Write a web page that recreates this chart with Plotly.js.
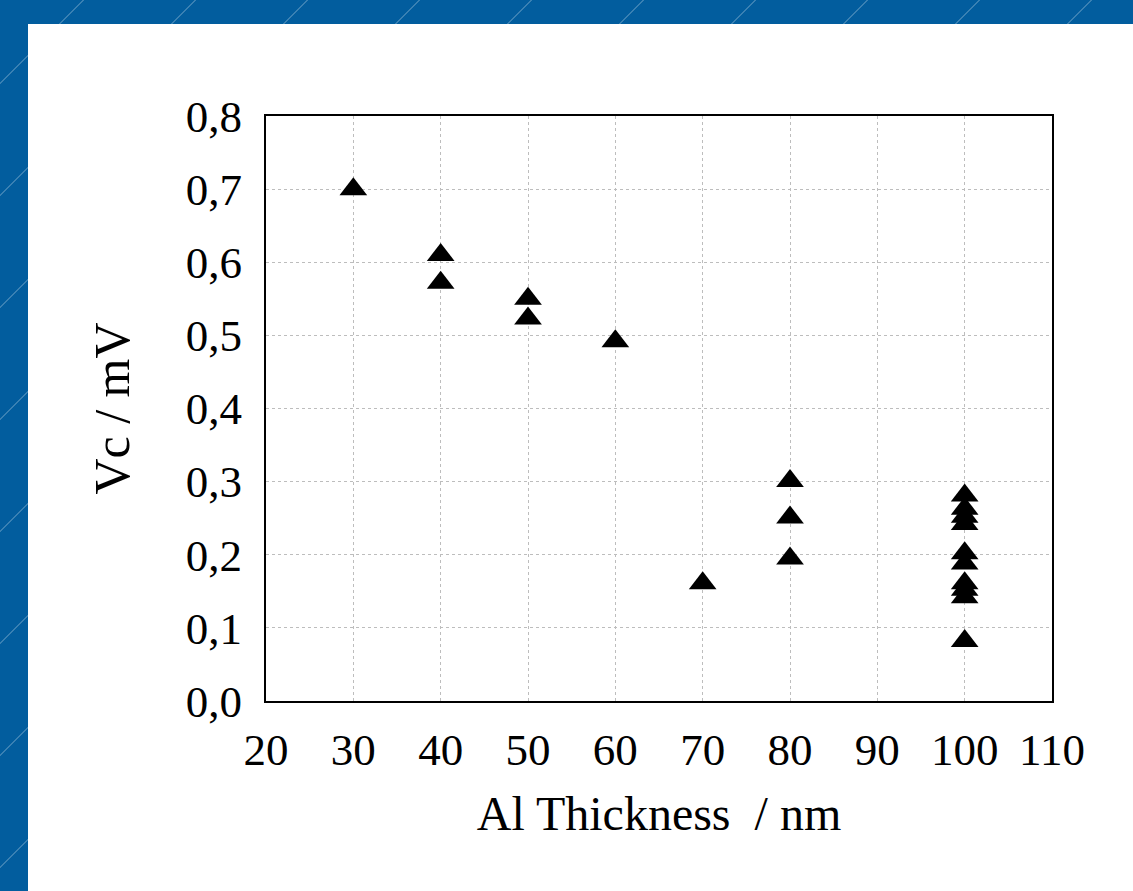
<!DOCTYPE html>
<html>
<head>
<meta charset="utf-8">
<script src="https://cdn.plot.ly/plotly-3.0.1.min.js"></script>
<style>
  html, body { margin: 0; padding: 0; }
  body {
    width: 1133px; height: 891px; overflow: hidden; position: relative;
    background-color: #025d9e;
    background-image: repeating-linear-gradient(135deg,
      rgba(255,255,255,0) 0px, rgba(255,255,255,0) 58.6px,
      rgba(255,255,255,0.22) 58.6px, rgba(255,255,255,0.22) 59.8px,
      rgba(255,255,255,0) 59.8px, rgba(255,255,255,0) 79.2px);
  }
  #chart { position: absolute; left: 28px; top: 24px; width: 1105px; height: 867px; background: #fff; }
</style>
</head>
<body>
<div id="chart"></div>
<script>
const thickness = [30, 40, 40, 50, 50, 60, 70, 80, 80, 80,
                   100, 100, 100, 100, 100, 100, 100, 100, 100, 100];
const vc = [0.700, 0.610, 0.572, 0.550, 0.523, 0.492, 0.161, 0.301, 0.251, 0.195,
            0.281, 0.263, 0.252, 0.242, 0.202, 0.188, 0.161, 0.152, 0.142, 0.082];
const xTicks = [20, 30, 40, 50, 60, 70, 80, 90, 100, 110];
const yTicks = [0, 0.1, 0.2, 0.3, 0.4, 0.5, 0.6, 0.7, 0.8];
const xTitle = 'Al Thickness  / nm';
const yTitle = 'Vc / mV';

const serif = 'Liberation Serif, Times New Roman, serif';

const trace = {
  x: thickness, y: vc, type: 'scatter', mode: 'markers',
  marker: { symbol: 'triangle-up', size: 24, color: '#000', line: { width: 0 } },
  hoverinfo: 'skip', showlegend: false
};

const layout = {
  width: 1105, height: 867,
  margin: { l: 238, r: 81, t: 92, b: 190 },
  paper_bgcolor: '#fff', plot_bgcolor: '#fff',
  separators: ', ',
  font: { family: serif, color: '#000', size: 44 },
  xaxis: {
    range: [20, 110], tickmode: 'array', tickvals: xTicks,
    showgrid: true, gridcolor: '#bdbdbd', griddash: 'dot', gridwidth: 1,
    showline: true, linecolor: '#000', linewidth: 2, mirror: true,
    zeroline: false, ticks: '', ticklabelstandoff: 8,
    tickfont: { family: serif, size: 45, color: '#000' },
    title: { text: xTitle, font: { family: serif, size: 48, color: '#000' }, standoff: 22 }
  },
  yaxis: {
    range: [0, 0.8], tickmode: 'array', tickvals: yTicks, tickformat: '.1f',
    showgrid: true, gridcolor: '#bdbdbd', griddash: 'dot', gridwidth: 1,
    showline: true, linecolor: '#000', linewidth: 2, mirror: true,
    zeroline: false, ticks: '', ticklabelstandoff: 13,
    tickfont: { family: serif, size: 45, color: '#000' },
    title: { text: yTitle, font: { family: serif, size: 50, color: '#000' }, standoff: 40 }
  }
};

Plotly.newPlot('chart', [trace], layout, { displayModeBar: false, staticPlot: true });
</script>
</body>
</html>
